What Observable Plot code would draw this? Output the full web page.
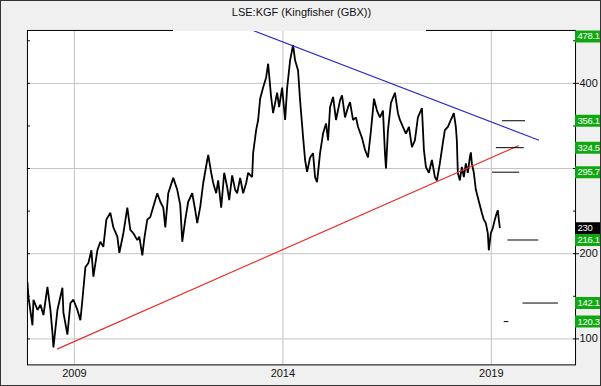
<!DOCTYPE html>
<html><head><meta charset="utf-8">
<script src="https://cdn.jsdelivr.net/npm/d3@7"></script>
<script src="https://cdn.jsdelivr.net/npm/@observablehq/plot@0.6"></script>
<style>
html,body{margin:0;padding:0;background:#f0f0f0;}
#wrap{position:relative;width:601px;height:386px;box-sizing:border-box;border:1px solid #333;background:#f0f0f0;overflow:hidden;font-family:"Liberation Sans",Arial,sans-serif;}
#chart{position:absolute;left:-1px;top:-1px;}
#gap{position:absolute;left:172px;top:-1px;width:253px;height:31px;background:#f0f0f0;}
#title{position:absolute;left:0;width:601px;top:5px;text-align:center;font-size:11px;color:#111;}
</style></head>
<body>
<div id="wrap"><div id="chart"></div><div id="gap"></div><div id="title">LSE:KGF (Kingfisher (GBX))</div></div>
<script>
// Daily close (GBX)
const priceDates = [
2007.874,2007.898,2007.994,2008.018,2008.114,2008.186,2008.257,2008.353,2008.425,2008.473,
2008.497,2008.593,2008.712,2008.736,2008.832,2008.904,2008.976,2009.072,2009.144,2009.192,
2009.263,2009.335,2009.407,2009.455,2009.551,2009.623,2009.694,2009.766,2009.862,2009.934,
2010.030,2010.078,2010.174,2010.269,2010.341,2010.413,2010.509,2010.557,2010.629,2010.677,
2010.748,2010.820,2010.892,2010.988,2011.060,2011.132,2011.180,2011.251,2011.371,2011.467,
2011.539,2011.587,2011.659,2011.730,2011.826,2011.898,2011.946,2012.018,2012.090,2012.186,
2012.210,2012.281,2012.329,2012.401,2012.449,2012.521,2012.593,2012.665,2012.713,2012.784,
2012.856,2012.904,2012.976,2013.048,2013.120,2013.168,2013.263,2013.287,2013.359,2013.407,
2013.455,2013.527,2013.599,2013.647,2013.718,2013.766,2013.862,2013.910,2013.982,2014.054,
2014.102,2014.174,2014.245,2014.293,2014.365,2014.413,2014.485,2014.533,2014.581,2014.653,
2014.724,2014.772,2014.820,2014.892,2014.964,2015.036,2015.084,2015.132,2015.204,2015.275,
2015.371,2015.419,2015.491,2015.563,2015.611,2015.683,2015.754,2015.802,2015.898,2015.970,
2016.042,2016.114,2016.186,2016.257,2016.329,2016.401,2016.449,2016.473,2016.521,2016.593,
2016.688,2016.760,2016.808,2016.880,2016.952,2017.024,2017.096,2017.167,2017.239,2017.335,
2017.383,2017.431,2017.503,2017.575,2017.647,2017.695,2017.766,2017.838,2017.886,2017.958,
2018.030,2018.101,2018.149,2018.173,2018.197,2018.245,2018.293,2018.341,2018.389,2018.437,
2018.485,2018.509,2018.533,2018.581,2018.629,2018.677,2018.725,2018.772,2018.820,2018.868,
2018.916,2018.940,2018.988,2019.036,2019.084,2019.132,2019.156,2019.180,2019.204];
const priceValues = [
166,149,116,146,134,140,128,161,134,107,
90,134,160,131,105,142,146,134,122,146,
184,189,204,173,204,214,208,240,248,231,
220,201,224,254,228,224,216,220,198,218,
240,243,255,271,261,254,231,271,289,275,
257,214,240,261,271,251,236,255,283,310,
316,295,283,271,286,254,295,278,263,292,
275,271,289,271,283,295,290,318,345,357,
382,395,407,423,384,365,389,372,395,357,
394,427,445,427,415,380,337,310,296,313,
318,290,284,318,341,353,333,372,384,357,
380,386,360,372,378,357,360,349,336,322,
313,345,382,368,360,368,318,300,345,377,
389,365,357,349,341,349,325,333,360,371,
322,302,295,310,290,286,306,330,345,349,
357,365,349,333,295,286,302,290,306,295,
313,319,306,295,275,266,257,248,240,236,
224,204,224,230,240,248,251,240,231];

// Trend lines (start/end date and price)
const trendNames = ["resistance","support"];
const trendX1 = [2013.287, 2008.585];
const trendY1 = [462, 88];
const trendX2 = [2020.145, 2019.659];
const trendY2 = [333.2, 327];
const trendColors = ["#2a2ad0", "#e8302a"];

// Target levels
const targetValues = [356.1, 324.5, 295.7, 216.1, 142.1, 120.3];
const targetStart  = [2019.27, 2019.12, 2019.03, 2019.40, 2019.76, 2019.31];
const targetEnd    = [2019.82, 2019.79, 2019.68, 2020.14, 2020.61, 2019.42];

// Right-side price tags
const tagValues = [478.1, 356.1, 324.5, 295.7, 230, 216.1, 142.1, 120.3];
const tagColors = ["#10a810","#10a810","#10a810","#10a810","#000000","#10a810","#10a810","#10a810"];

const xTicks = [2009, 2014, 2019];
const yGrid = [100, 200, 300, 400];
const yLabels = [100, 200, 400];
const yMinor = [100, 150, 200, 250, 300, 350, 400, 450];

const xDomain = [2007.874, 2021.02];
const yDomain = [69.5, 462.1];

const price = priceDates.map((t, i) => ({t, v: priceValues[i]}));
const trends = trendNames.map((n, i) => ({n, x1: trendX1[i], y1: trendY1[i], x2: trendX2[i], y2: trendY2[i], c: trendColors[i]}));
const targets = targetValues.map((v, i) => ({v, s: targetStart[i], e: targetEnd[i]}));
const tagCap = yDomain[1] - 7;
const tags = tagValues.map((v, i) => ({v, y: Math.min(v, tagCap), c: tagColors[i], label: String(v)}));

const chart = Plot.plot({
  width: 601, height: 386,
  marginLeft: 27, marginRight: 25, marginTop: 30, marginBottom: 21,
  style: {background: "transparent", fontFamily: "'Liberation Sans', Arial, sans-serif", fontSize: "11px", color: "#111", overflow: "visible"},
  x: {domain: xDomain},
  y: {domain: yDomain},
  marks: [
    Plot.frame({fill: "white", stroke: null}),
    Plot.gridX(xTicks, {stroke: "#c4c4c4", strokeOpacity: 1}),
    Plot.gridY(yGrid, {stroke: "#c4c4c4", strokeOpacity: 1}),
    Plot.axisX(xTicks, {tickSize: 0, tickPadding: 4, tickFormat: d => String(d), label: null}),
    Plot.axisY(yLabels, {anchor: "right", tickSize: 3, tickPadding: 1, tickFormat: d => String(d), label: null}),
    Plot.axisY(yMinor, {anchor: "left", tickSize: -3, tickFormat: () => "", label: null}),
    Plot.axisY(yMinor, {anchor: "right", tickSize: -3, tickFormat: () => "", label: null}),
    Plot.line(price, {x: "t", y: "v", stroke: "black", strokeWidth: 1.8, strokeLinejoin: "miter", clip: true}),
    Plot.link(trends, {x1: "x1", y1: "y1", x2: "x2", y2: "y2", stroke: "c", strokeWidth: 1.2}),
    Plot.ruleY(targets, {y: "v", x1: "s", x2: "e", stroke: "black", strokeWidth: 1}),
    Plot.frame({stroke: "black"}),
    Plot.ruleY(tags, {y: "y", x1: () => xDomain[1], x2: () => xDomain[1] + 2, stroke: "c", strokeWidth: 12}),
    Plot.text(tags, {y: "y", frameAnchor: "right", dx: 2, textAnchor: "start", text: "label", fill: "white", fontSize: 9.5, style: "letter-spacing:-0.3px"})
  ]
});
d3.select(chart).selectAll("g[aria-label='text'] text").style("letter-spacing", "-0.3px");
document.getElementById("chart").appendChild(chart);
</script>
</body></html>
